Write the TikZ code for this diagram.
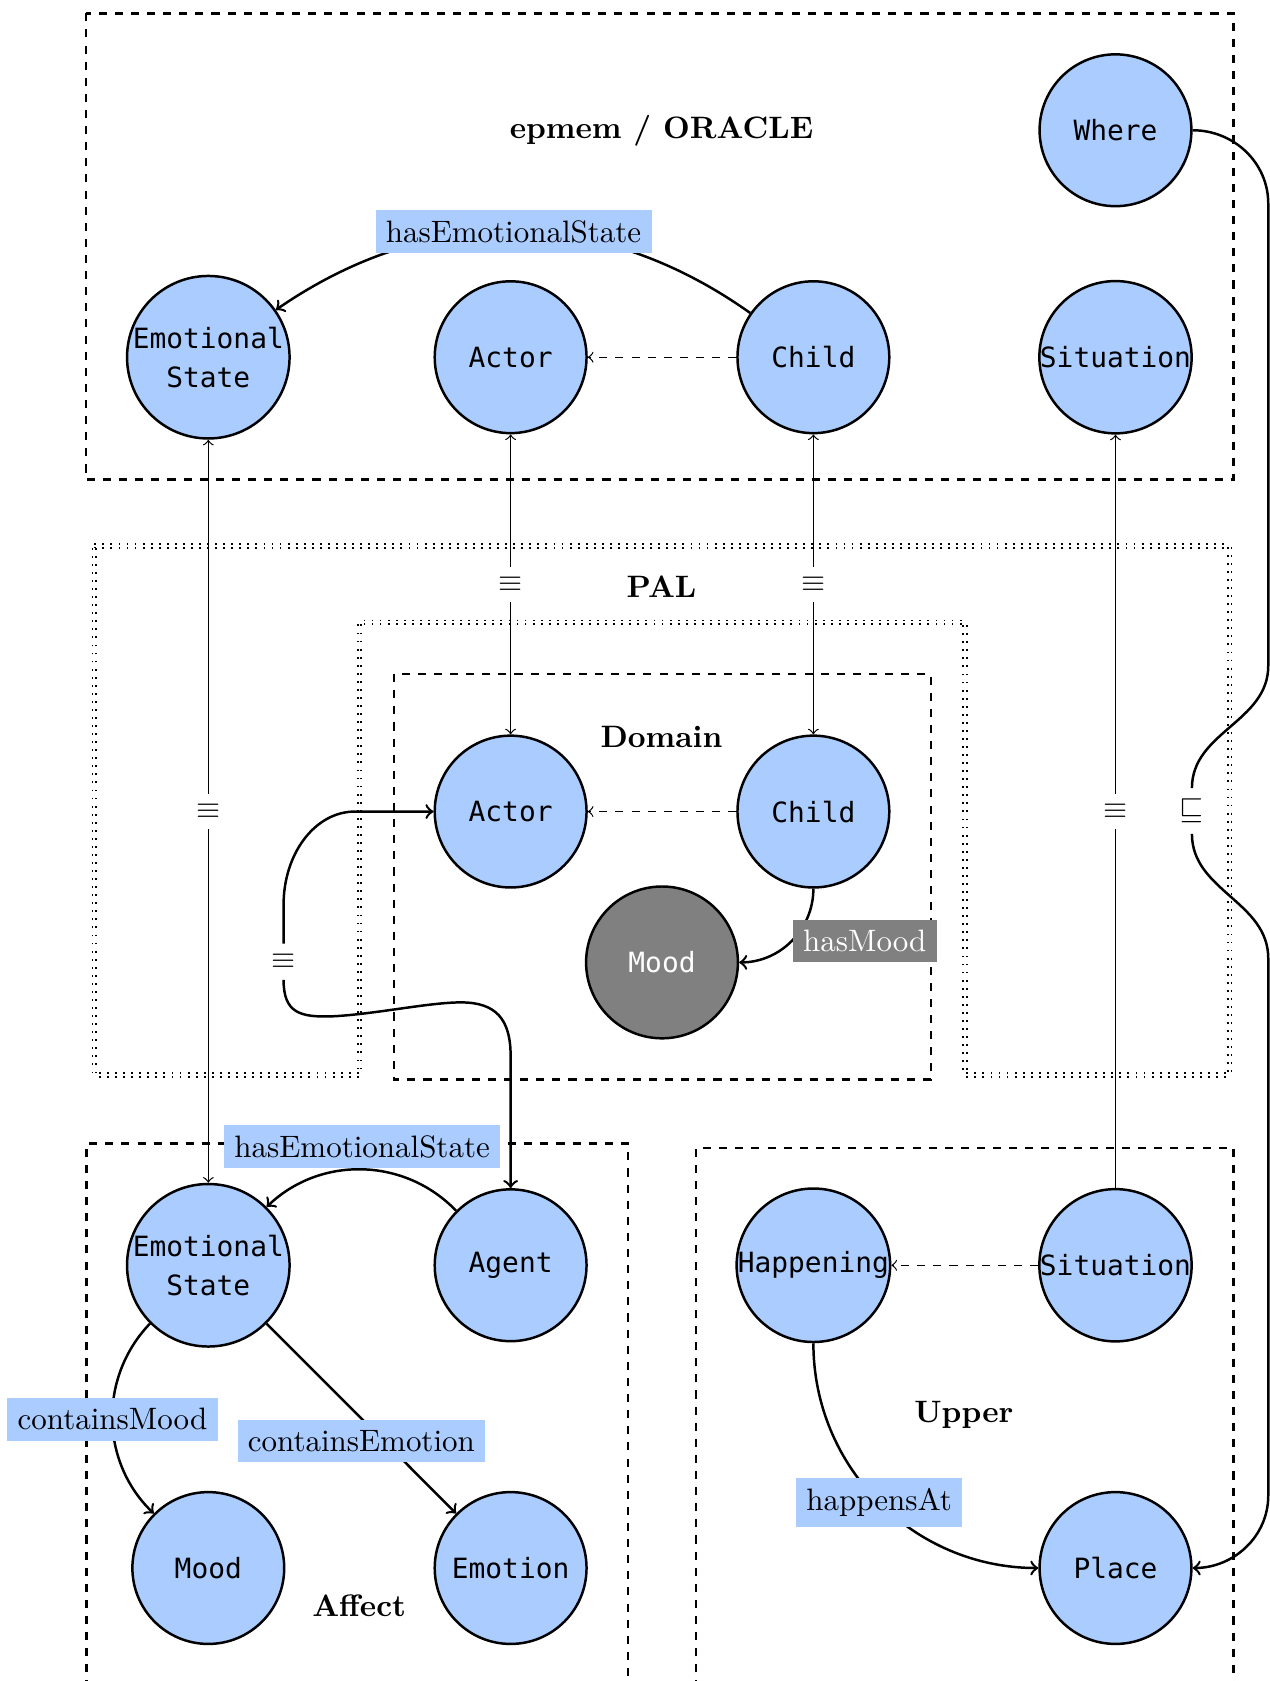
\documentclass[tikz,border=0pt]{standalone}
\usepackage{fontspec}
\newfontfamily\nodefont{DejaVu Sans Mono}
\definecolor{conceptblue}{HTML}{AACCFF}
\definecolor{moodgray}{HTML}{808080}

\begin{document}
\begin{tikzpicture}[x=0.346pt, y=0.346pt,
  concept/.style={circle, draw=black, thick, fill=conceptblue,
    minimum size=49pt, inner sep=0pt,
    font=\nodefont\fontsize{9}{12.5}\selectfont, align=center},
  grayconcept/.style={concept, fill=moodgray, text=white},
  rel/.style={thick, ->},
  rellabel/.style={fill=conceptblue, font=\normalsize},
  graylabel/.style={fill=moodgray, text=white, font=\normalsize},
  link/.style={thin, <->},
  oneway/.style={thin, ->},
  equivnode/.style={fill=white},
  subcls/.style={thin, dash pattern=on 2.6pt off 2.6pt, ->},
  region/.style={draw, thick, dash pattern=on 2.6pt off 2.6pt},
  ring/.style={draw, semithick, dotted, double},
  title/.style={font=\bfseries}
]
\useasboundingbox (0,0) rectangle (1184,-1568);
\fill[white] (0,0) rectangle (1184,-1568);

% module frames
\draw[region] (80,-12.4) rectangle (1150.4,-447.2);
\draw[ring] (88,-509.5) -- (1147,-509.5) -- (1147,-1002.6) -- (900,-1002.6)
  -- (900,-580.5) -- (335.3,-580.5) -- (335.3,-1002.6) -- (88,-1002.6) -- cycle;
\draw[region] (367.4,-628.8) rectangle (868.3,-1007);
\draw[region] (80.5,-1575) -- (80.5,-1066.7) -- (586,-1066.7) -- (586,-1575);
\draw[region] (649.2,-1575) -- (649.2,-1070.6) -- (1150.4,-1070.6) -- (1150.4,-1575);

% module titles
\node[title] (tOracle) at (617,-122) {epmem / ORACLE};
\node[title] (tPal) at (617,-547) {PAL};
\node[title] (tDomain) at (617,-687) {Domain};
\node[title] (tAffect) at (335,-1498) {Affect};
\node[title] (tUpper) at (899,-1320) {Upper};

% concepts
\node[concept] (where) at (1040.5,-121.5) {Where};
\node[concept] (es1) at (194.3,-333.2) {Emotional\\State};
\node[concept] (actor1) at (476.3,-333.2) {Actor};
\node[concept] (child1) at (758.7,-333.2) {Child};
\node[concept] (sit1) at (1040.5,-333.2) {Situation};
\node[concept] (actor2) at (476.3,-757) {Actor};
\node[concept] (child2) at (758.7,-757) {Child};
\node[grayconcept] (mood1) at (617.5,-897.7) {Mood};
\node[concept] (es2) at (194.3,-1180.2) {Emotional\\State};
\node[concept] (agent) at (476.3,-1180.2) {Agent};
\node[concept] (happening) at (758.7,-1180.2) {Happening};
\node[concept] (sit2) at (1040.5,-1180.2) {Situation};
\node[concept] (mood2) at (194.3,-1462.6) {Mood};
\node[concept] (emotion) at (476.3,-1462.6) {Emotion};
\node[concept] (place) at (1040.5,-1462.6) {Place};

% epmem / ORACLE relations
\draw[rel] (child1) to[bend right=35] node[rellabel] {hasEmotionalState} (es1);
\draw[subcls] (child1) -- (actor1);

% equivalences across modules
\draw[link] (es2) -- node[equivnode] {$\equiv$} (es1);
\draw[link] (actor2) -- node[equivnode] {$\equiv$} (actor1);
\draw[link] (child2) -- node[equivnode] {$\equiv$} (child1);
\draw[oneway] (sit2) -- node[equivnode] {$\equiv$} (sit1);

% Domain relations
\draw[subcls] (child2) -- (actor2);
\draw[rel] (child2) to[out=-90,in=0] node[graylabel, right] {hasMood} (mood1);

% Actor is equivalent to Agent
\node[equivnode] (eqa) at (264.5,-897) {$\equiv$};
\draw[rel] (eqa.north) -- (264.5,-844) .. controls (264.5,-796) and (294,-757) .. (331,-757) -- (actor2.west);
\draw[rel] (eqa.south) .. controls (264.5,-945) and (280,-949) .. (310,-948)
  .. controls (350,-946) and (400,-935) .. (430,-935)
  .. controls (462,-935) and (476.3,-950) .. (476.3,-985) -- (agent.north);

% Affect relations
\draw[rel] (agent) to[bend right=45] node[rellabel, above] {hasEmotionalState} (es2);
\draw[rel] (es2) to[bend right=45] node[rellabel] {containsMood} (mood2);
\draw[rel] (es2) -- node[rellabel, below] {containsEmotion} (emotion);

% Upper relations
\draw[subcls] (sit2) -- (happening);
\draw[rel] (happening) to[out=-90,in=180] node[rellabel] {happensAt} (place);

% Where is subsumed by Place
\node[equivnode] (sqs) at (1111.8,-756.5) {$\sqsubseteq$};
\draw[thick] (where.east) to[out=0,in=90] (1183,-190) -- (1183,-621)
  to[out=-90,in=90] (sqs.north);
\draw[rel] (sqs.south) to[out=-90,in=90] (1183,-894) -- (1183,-1395)
  to[out=-90,in=0] (place.east);
\end{tikzpicture}
\end{document}
